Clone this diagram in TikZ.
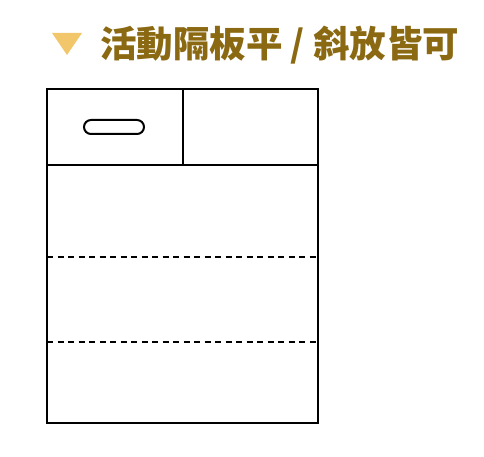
\documentclass[tikz,border=0pt]{standalone}
\usepackage{fontspec}
\newfontfamily\cjk{Noto Sans CJK TC}
\usetikzlibrary{positioning}
\definecolor{titlegold}{HTML}{8A6912}
\definecolor{markgold}{HTML}{F2C76C}

\begin{document}
\begin{tikzpicture}[x=1pt,y=-1pt,line width=2pt]
\useasboundingbox (0,0) rectangle (484,457);
\fill[markgold] (52,33) -- (82,33) -- (67,55) -- cycle;
\node[anchor=west,text=titlegold,font=\cjk\bfseries\fontsize{36.5}{40}\selectfont,inner sep=0pt] (title) at (99,45) {活動隔板平 / 斜放皆可};
\draw (47,89) rectangle (318,423);
\draw (47,165) -- (318,165);
\draw (183,89) -- (183,165);
\draw[rounded corners=7pt] (84,120) rectangle (144,134);
\draw[dash pattern=on 6pt off 4.5pt] (47,257) -- (318,257);
\draw[dash pattern=on 6pt off 4.5pt] (47,342) -- (318,342);
\end{tikzpicture}
\end{document}
